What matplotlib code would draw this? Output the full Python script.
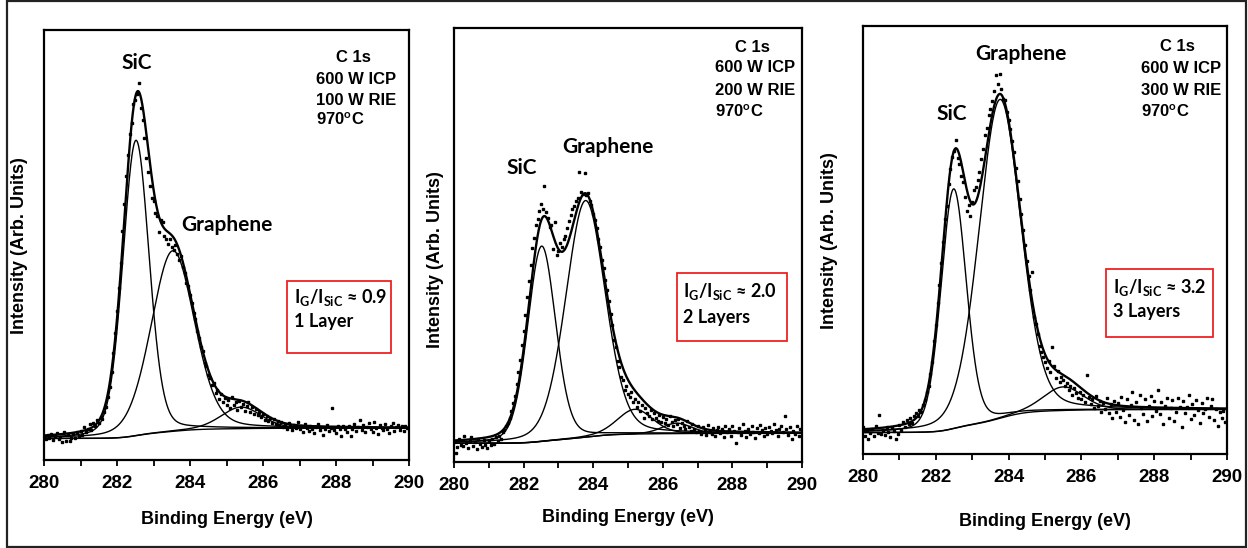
import numpy as np
import matplotlib.pyplot as plt
from matplotlib.patches import Rectangle

plt.rcParams['mathtext.fontset'] = 'custom'
plt.rcParams['mathtext.rm'] = 'Lato:bold'
plt.rcParams['mathtext.it'] = 'Lato:bold'
plt.rcParams['mathtext.bf'] = 'Lato:bold'

# binding energy of the measured points (0.05 eV step)
energy = np.arange(280.0, 290.0, 0.05)

counts_100W = [5.6, 4.8, 5.9, 5.2, 6.1, 4.6, 5.5, 6.3, 4.9, 5.4, 4.3, 6.6, 4.4, 5.8, 4.5, 5.2, 6.0, 5.1, 6.4, 5.5,
               6.8, 5.9, 7.6, 6.4, 7.2, 8.3, 7.0, 8.6, 7.9, 9.2, 8.7, 10.1, 9.6, 11.2, 12.4, 14.6, 16.9, 20.4, 24.8, 29.5,
               34.6, 40.1, 45.9, 53.2, 59.6, 66.1, 71.0, 75.8, 78.4, 82.9, 83.7, 85.2, 87.6, 81.9, 79.1, 74.8, 70.3, 66.9, 63.8, 61.0,
               60.2, 57.4, 56.8, 53.1, 55.9, 55.3, 52.0, 51.4, 50.2, 51.3, 49.6, 48.8, 49.9, 47.8, 46.5, 47.4, 44.9, 43.6, 41.2, 40.5,
               38.3, 36.6, 34.2, 32.9, 30.1, 28.4, 26.2, 25.3, 22.6, 21.8, 19.7, 19.0, 17.4, 17.8, 15.6, 16.2, 14.1, 15.3, 13.6, 14.4,
               12.8, 13.9, 12.2, 14.6, 12.9, 13.5, 11.7, 13.8, 12.4, 13.1, 11.5, 12.6, 13.4, 11.2, 12.3, 10.8, 11.9, 10.4, 11.1, 9.9,
               10.6, 9.4, 10.2, 9.1, 9.8, 8.6, 9.5, 8.3, 9.0, 8.1, 8.8, 7.6, 8.4, 7.3, 8.6, 7.8, 6.9, 8.2, 7.5, 8.9,
               7.1, 7.9, 6.6, 8.3, 7.4, 6.8, 8.0, 7.2, 6.3, 7.7, 8.4, 6.9, 7.6, 5.8, 7.3, 8.1, 6.7, 7.5, 12.0, 7.0,
               6.2, 7.8, 7.1, 5.6, 8.0, 7.3, 6.4, 7.9, 5.5, 7.2, 8.3, 6.8, 7.6, 9.4, 7.0, 8.2, 6.6, 7.7, 8.6, 7.1,
               6.5, 8.8, 7.4, 6.1, 8.1, 7.5, 6.9, 8.4, 7.2, 6.3, 7.9, 8.5, 6.7, 7.6, 8.2, 7.0, 7.8, 6.8, 8.0, 7.5]
counts_200W = [4.6, 2.1, 3.4, 5.2, 4.0, 3.6, 5.9, 4.4, 3.2, 4.9, 5.8, 3.8, 4.5, 3.1, 5.4, 4.2, 3.5, 5.1, 4.0, 3.3,
               4.8, 3.9, 5.3, 4.1, 5.7, 4.9, 6.1, 5.4, 6.8, 7.4, 8.3, 9.0, 10.2, 11.8, 13.6, 15.2, 17.9, 20.8, 23.4, 26.9,
               30.2, 33.8, 38.1, 41.6, 45.3, 49.2, 51.5, 54.7, 56.0, 57.9, 59.4, 58.2, 63.5, 57.6, 56.3, 54.1, 54.6, 49.0, 55.2, 47.6,
               48.7, 50.4, 49.6, 51.3, 52.1, 53.9, 55.6, 56.8, 58.3, 59.0, 60.2, 60.9, 66.9, 62.3, 61.8, 66.5, 61.5, 62.0, 60.1, 59.3,
               57.2, 55.8, 54.0, 51.3, 49.5, 46.6, 44.8, 41.9, 39.6, 37.0, 34.2, 31.5, 28.1, 26.4, 23.3, 21.8, 19.6, 18.9, 16.7, 17.4,
               15.6, 14.9, 16.2, 13.8, 14.5, 12.6, 13.9, 11.8, 13.2, 10.1, 12.4, 11.3, 10.6, 12.0, 9.8, 11.4, 10.1, 9.4, 10.8, 9.2,
               10.3, 8.9, 9.9, 8.5, 10.6, 9.3, 8.2, 9.7, 8.8, 10.0, 7.9, 9.1, 8.4, 7.5, 9.4, 8.0, 7.2, 8.7, 7.6, 6.8,
               8.3, 7.1, 6.5, 8.0, 7.4, 6.2, 8.6, 7.0, 6.4, 7.8, 5.9, 7.3, 8.1, 6.6, 7.5, 5.7, 8.2, 6.9, 7.7, 6.1,
               8.4, 7.2, 4.3, 6.8, 7.9, 6.3, 8.7, 7.1, 5.8, 7.6, 6.5, 8.3, 7.0, 5.6, 7.8, 6.7, 8.5, 7.3, 6.0, 7.9,
               6.4, 8.1, 7.2, 6.6, 8.8, 7.4, 6.1, 7.7, 8.3, 6.9, 10.6, 7.5, 6.3, 8.0, 5.2, 7.1, 6.4, 8.2, 5.9, 7.6]
counts_300W = [6.2, 4.1, 5.5, 3.6, 4.8, 5.9, 4.3, 6.6, 5.0, 9.0, 4.6, 5.7, 4.4, 6.3, 5.1, 3.9, 6.0, 5.4, 3.5, 4.7,
               6.8, 5.6, 7.5, 6.2, 7.9, 7.0, 8.4, 7.3, 8.8, 9.6, 8.9, 10.3, 9.7, 11.4, 12.6, 14.5, 15.8, 18.7, 21.6, 26.4,
               30.1, 35.2, 39.4, 44.6, 49.5, 54.8, 58.0, 63.2, 66.7, 69.5, 70.8, 73.4, 69.2, 67.8, 64.9, 63.5, 60.1, 56.8, 58.2, 55.6,
               58.9, 61.6, 62.4, 64.0, 65.8, 68.9, 71.2, 74.6, 76.1, 79.3, 80.7, 82.4, 84.9, 88.6, 86.5, 88.9, 85.2, 83.0, 82.6, 79.8,
               78.1, 75.9, 73.2, 70.6, 66.8, 63.9, 59.5, 56.1, 52.3, 48.9, 45.0, 41.6, 38.4, 42.6, 32.1, 30.4, 28.0, 25.3, 23.9, 22.6,
               21.4, 20.1, 21.8, 19.2, 24.9, 20.6, 17.8, 19.4, 16.9, 18.1, 17.3, 15.8, 16.6, 14.9, 16.0, 13.8, 15.4, 14.2, 13.1, 14.6,
               12.8, 13.9, 12.1, 18.4, 13.3, 11.6, 12.9, 10.8, 13.6, 11.2, 12.4, 9.9, 12.0, 10.6, 13.1, 9.5, 11.7, 8.3, 12.5, 9.8,
               11.9, 8.6, 13.4, 10.2, 7.4, 12.8, 9.1, 11.5, 14.6, 8.0, 12.2, 7.1, 13.8, 10.7, 9.3, 12.9, 7.8, 11.1, 13.5, 8.9,
               12.4, 10.0, 14.9, 9.4, 12.1, 6.9, 11.3, 13.2, 8.5, 10.8, 12.6, 7.6, 9.9, 13.0, 11.0, 6.4, 12.3, 9.6, 10.9, 13.7,
               8.2, 11.6, 9.0, 12.7, 10.3, 7.3, 11.8, 9.5, 10.6, 13.1, 8.7, 11.2, 12.9, 7.9, 10.4, 6.6, 9.8, 8.4, 10.1, 7.5]

# fitted peaks (SiC, graphene, higher BE components): centre eV, height, FWHM eV
centers_100W = [282.52, 283.53, 285.4]
heights_100W = [68.7, 42.0, 5.0]
fwhm_100W = [0.85, 1.40, 1.3]
background_100W = [5.0, 7.4]

centers_200W = [282.52, 283.78, 285.2, 286.4]
heights_200W = [45.0, 54.5, 5.7, 2.4]
fwhm_200W = [0.95, 1.34, 1.2, 1.0]
background_200W = [4.3, 6.6]

centers_300W = [282.49, 283.76, 285.5]
heights_300W = [56.0, 74.5, 5.5]
fwhm_300W = [0.82, 1.36, 1.3]
background_300W = [5.0, 10.4]

rie_power = ['100 W RIE', '200 W RIE', '300 W RIE']
ratio_text = ['0.9', '2.0', '3.2']
layer_text = ['1 Layer', '2 Layers', '3 Layers']

LOR = 0.2  # lorentzian fraction of the GL line shape


def gl_peak(e, c, h, w):
    x = (e - c) / w
    return h * ((1 - LOR) * np.exp(-4 * np.log(2) * x**2) + LOR / (1 + 4 * x**2))


def shirley(e, peaks, lo, hi):
    tot = np.sum(peaks, axis=0)
    frac = np.cumsum(tot) / np.sum(tot)
    return lo + (hi - lo) * frac


panels = [
    (counts_100W, centers_100W, heights_100W, fwhm_100W, background_100W),
    (counts_200W, centers_200W, heights_200W, fwhm_200W, background_200W),
    (counts_300W, centers_300W, heights_300W, fwhm_300W, background_300W),
]

W, H = 1248, 548
# axes boxes in pixels: left, right, top, bottom
boxes = [(44, 409, 30, 460), (454, 802, 28, 462), (863, 1227, 26, 454)]
# label positions (data coords)
sic_pos = [(282.55, 92.3), (281.95, 67.7), (282.45, 79.4)]
gr_pos = [(285.0, 54.7), (284.43, 72.6), (284.34, 93.5)]
info_left = [287.45, 287.5, 287.63]
info_center = [288.47, 288.59, 288.65]
info_y = [(93.5, 88.6, 83.7, 79.1), (95.6, 90.8, 85.7, 80.6), (95.1, 90.1, 84.9, 80.0)]
box_rect = [(286.66, 24.9, 289.51, 41.6), (286.41, 27.9, 289.57, 43.5), (286.68, 27.3, 289.62, 43.2)]
box_text = [(286.85, 37.7, 32.1), (286.58, 39.4, 33.4), (286.87, 38.8, 33.2)]
ylab_px = [(20, 246), (435, 260), (830, 241)]
xlab_py = [519, 517, 521]

fig = plt.figure(figsize=(W / 100, H / 100), dpi=100)
fig.add_artist(Rectangle((7 / W, 1 / H), 1239 / W, 546 / H, transform=fig.transFigure,
                         fill=False, lw=1.6, ec='#222222'))

e_fine = np.linspace(280, 290, 1201)
arial = 'Liberation Sans'
calib = 'Lato'

for i, (counts, cen, hei, fw, bg) in enumerate(panels):
    l, r, t, b = boxes[i]
    ax = fig.add_axes([l / W, 1 - b / H, (r - l) / W, (b - t) / H])
    peaks = [gl_peak(e_fine, c, h, w) for c, h, w in zip(cen, hei, fw)]
    base = shirley(e_fine, peaks, bg[0], bg[1])
    ax.plot(e_fine, base, color='k', lw=1.0)
    for p in peaks:
        ax.plot(e_fine, base + p, color='k', lw=1.0)
    ax.plot(e_fine, base + np.sum(peaks, axis=0), color='k', lw=1.7)
    ax.plot(energy, counts, ls='none', marker='s', ms=2.1, color='k')

    ax.set_xlim(280, 290)
    ax.set_ylim(0, 100)
    ax.set_yticks([])
    ax.set_xticks(np.arange(280, 291, 2))
    ax.set_xticks(np.arange(281, 290, 2), minor=True)
    ax.tick_params(axis='x', which='both', direction='out', length=4, width=1.3, pad=7)
    for lab in ax.get_xticklabels():
        lab.set_fontfamily(arial)
        lab.set_fontweight('bold')
        lab.set_fontsize(13.5)
    for s in ax.spines.values():
        s.set_linewidth(1.6)

    ax.text(*sic_pos[i], 'SiC', family=calib, weight='bold', fontsize=15, ha='center', va='center')
    ax.text(*gr_pos[i], 'Graphene', family=calib, weight='bold', fontsize=15, ha='center', va='center')
    ys = info_y[i]
    ax.text(info_center[i], ys[0], 'C 1s', family=arial, weight='bold', fontsize=12, ha='center', va='center')
    ax.text(info_left[i], ys[1], '600 W ICP', family=arial, weight='bold', fontsize=12, ha='left', va='center')
    ax.text(info_left[i], ys[2], rie_power[i], family=arial, weight='bold', fontsize=12, ha='left', va='center')
    ax.text(info_left[i], ys[3], '970$^{\\rm o}$C', family=arial, weight='bold', fontsize=12, ha='left', va='center')

    x0, y0, x1, y1 = box_rect[i]
    ax.add_patch(Rectangle((x0, y0), x1 - x0, y1 - y0, fill=False, ec='#ee2222', lw=1.3))
    bx, by1, by2 = box_text[i]
    ax.text(bx, by1, 'I$_{\\rm G}$/I$_{\\rm SiC}$ \u2248 ' + ratio_text[i], family=[calib, 'DejaVu Sans'],
            weight='bold', fontsize=13, ha='left', va='center')
    ax.text(bx, by2, layer_text[i], family=calib, weight='bold', fontsize=13, ha='left', va='center')

    fig.text(ylab_px[i][0] / W, 1 - ylab_px[i][1] / H, 'Intensity (Arb. Units)', family=arial,
             weight='bold', fontsize=13, rotation=90, ha='center', va='center')
    fig.text((l + r) / 2 / W, 1 - xlab_py[i] / H, 'Binding Energy (eV)', family=arial,
             weight='bold', fontsize=13, ha='center', va='center')

fig.savefig('out.png', dpi=100, facecolor='white')
